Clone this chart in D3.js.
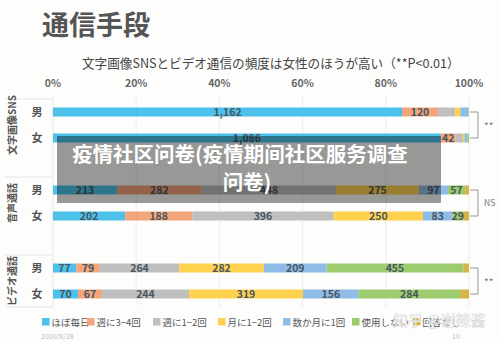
<!DOCTYPE html>
<html>
<head>
<meta charset="utf-8">
<script src="https://cdn.jsdelivr.net/npm/d3@7"></script>
<style>
  body { margin: 0; background: #fdfdfc; }
  svg { display: block; font-family: "Noto Sans CJK JP", "Noto Sans", sans-serif; }
</style>
</head>
<body>
<svg id="chart" width="500" height="342"></svg>
<script>

// Answer categories (legend order)
const categories = ["ほぼ毎日", "週に3−4回", "週に1−2回", "月に1−2回", "数か月に1回", "使用しない", "回答なし"];
const categoryColours = ["#4cc1ec", "#f3a57b", "#bfbfbf", "#fed24e", "#8fbce6", "#9dcc6f", "#d4b446"];

// Rows
const groups = ["文字画像SNS", "音声通話", "ビデオ通話"];
const genders = ["男", "女"];
const significance = ["**", "NS", "**"];

// Counts per category
const snsMale = [1162, 120, 57, 17, 27, 2, 0];
const snsFemale = [1086, 42, 20, 4, 8, 5, 0];
const voiceMale = [213, 282, 448, 275, 97, 57, 13];
const voiceFemale = [202, 188, 396, 250, 83, 29, 17];
const videoMale = [77, 79, 264, 282, 209, 455, 19];
const videoFemale = [70, 67, 244, 319, 156, 284, 25];

// Which categories get a printed value, per group
const labelledCategories = [[0, 1], [0, 1, 2, 3, 4, 5], [0, 1, 2, 3, 4, 5]];

const tickValues = [0, 0.2, 0.4, 0.6, 0.8, 1];

const rows = [
    { group: 0, gender: 0, values: snsMale },
    { group: 0, gender: 1, values: snsFemale },
    { group: 1, gender: 0, values: voiceMale },
    { group: 1, gender: 1, values: voiceFemale },
    { group: 2, gender: 0, values: videoMale },
    { group: 2, gender: 1, values: videoFemale }
];

const svg = d3.select("#chart");

// Title
svg.append("text")
    .attr("x", 42).attr("y", 35)
    .style("font-size", "27px").style("font-weight", "bold")
    .style("fill", "#555")
    .text("通信手段");
svg.append("text")
    .attr("x", 82).attr("y", 67.5)
    .style("font-size", "12.6px").style("fill", "#444")
    .text("文字画像SNSとビデオ通信の頻度は女性のほうが高い（**P<0.01）");

// Scales
const x = d3.scaleLinear().domain([0, 1]).range([53, 469]);
const yGroup = d3.scaleBand().domain(d3.range(groups.length)).range([99, 333]).padding(0);
const yGender = d3.scaleBand().domain(d3.range(genders.length)).range([0, 52]);
const barHeight = 9;
const rowY = (r) => yGroup(r.group) + yGender(r.gender) + yGender.bandwidth() / 2;

// Top axis labels
svg.append("g")
    .selectAll("text")
    .data(tickValues)
    .enter()
    .append("text")
    .attr("x", (d) => x(d))
    .attr("y", 86.5)
    .attr("text-anchor", "middle")
    .style("font-size", "10.5px").style("font-weight", "bold").style("fill", "#666")
    .text(d3.format(".0%"));

// Vertical gridlines
svg.append("g")
    .selectAll("line")
    .data(tickValues.slice(1))
    .enter()
    .append("line")
    .attr("x1", (d) => x(d)).attr("x2", (d) => x(d))
    .attr("y1", 95).attr("y2", 307)
    .style("stroke", "#ececec").style("stroke-width", 1);

// Left label table lines
const boxLines = [yGroup(0), yGroup(1), yGroup(2), yGroup(2) + 52];
svg.append("g")
    .selectAll("line")
    .data(boxLines)
    .enter()
    .append("line")
    .attr("x1", 5).attr("x2", x(0))
    .attr("y1", (d) => d).attr("y2", (d) => d)
    .style("stroke", "#e6e6e6");
svg.append("line")
    .attr("x1", x(0)).attr("x2", x(0))
    .attr("y1", 95).attr("y2", 307)
    .style("stroke", "#e6e6e6");

// Group labels (rotated)
svg.append("g")
    .selectAll("text")
    .data(groups)
    .enter()
    .append("text")
    .attr("transform", (d, i) => `translate(16, ${yGroup(i) + 26}) rotate(-90)`)
    .attr("text-anchor", "middle")
    .style("font-size", "10px").style("font-weight", "bold").style("fill", "#555")
    .text((d) => d);

// Bars
const stacked = rows.map((r) => {
    const total = d3.sum(r.values);
    let acc = 0;
    return r.values.map((v, i) => {
        const seg = { row: r, index: i, value: v, x0: acc / total, x1: (acc + v) / total };
        acc += v;
        return seg;
    });
});

const rowG = svg.append("g")
    .selectAll("g")
    .data(rows)
    .enter()
    .append("g");

rowG.append("text")
    .attr("x", 37)
    .attr("y", (d) => rowY(d) + 4)
    .attr("text-anchor", "middle")
    .style("font-size", "11px").style("font-weight", "bold").style("fill", "#555")
    .text((d) => genders[d.gender]);

rowG.selectAll("rect")
    .data((d, i) => stacked[i].filter((s) => s.value > 0))
    .enter()
    .append("rect")
    .attr("x", (d) => x(d.x0))
    .attr("width", (d) => x(d.x1) - x(d.x0))
    .attr("y", (d) => rowY(d.row) - barHeight / 2)
    .attr("height", barHeight)
    .style("fill", (d) => categoryColours[d.index]);

rowG.selectAll("text.value")
    .data((d, i) => stacked[i].filter((s) => labelledCategories[s.row.group].includes(s.index)))
    .enter()
    .append("text")
    .classed("value", true)
    .attr("x", (d) => (x(d.x0) + x(d.x1)) / 2)
    .attr("y", (d) => rowY(d.row) + 3.8)
    .attr("text-anchor", "middle")
    .style("font-size", "10.5px").style("font-weight", "bold").style("fill", "#4a5560")
    .text((d) => d3.format(",")(d.value));

// Significance brackets
const bracket = svg.append("g")
    .selectAll("g")
    .data(significance)
    .enter()
    .append("g");
bracket.append("path")
    .attr("d", (d, i) => {
        const y0 = yGroup(i) + yGender(0) + yGender.bandwidth() / 2,
              y1 = yGroup(i) + yGender(1) + yGender.bandwidth() / 2;
        return `M${x(1) + 1},${y0}H478V${y1}H${x(1) + 1}`;
    })
    .style("fill", "none").style("stroke", "#999").style("stroke-width", 1);
bracket.append("text")
    .attr("x", 484)
    .attr("y", (d, i) => yGroup(i) + 29 + (d === "**" ? 2 : 0))
    .style("font-size", (d) => d === "**" ? "10px" : "8.5px")
    .style("fill", "#777")
    .text((d) => d);

// Legend
const legendX = [42, 87, 153, 218, 283, 352, 413];
const legend = svg.append("g")
    .selectAll("g")
    .data(categories)
    .enter()
    .append("g")
    .attr("transform", (d, i) => `translate(${legendX[i]}, 322)`);
legend.append("rect")
    .attr("x", 0).attr("y", -4)
    .attr("width", 7.5).attr("height", 7.5)
    .style("fill", (d, i) => categoryColours[i]);
legend.append("text")
    .attr("x", 9.5).attr("y", 3.8)
    .style("font-size", "9.5px").style("fill", "#555")
    .text((d) => d);

// Footer
svg.append("text")
    .attr("x", 41).attr("y", 339)
    .style("font-size", "7px").style("fill", "#bbb")
    .text("2020/8/28");
svg.append("text")
    .attr("x", 452).attr("y", 339)
    .style("font-size", "7px").style("fill", "#bbb")
    .text("10");

// Watermark
svg.append("text")
    .attr("x", 393).attr("y", 326)
    .style("font-family", "'Noto Sans CJK SC'")
    .style("font-size", "15px")
    .style("fill", "#ffffff").style("fill-opacity", 0.75)
    .style("stroke", "#d8d8d8").style("stroke-width", 0.5)
    .text("知乎 @谢辣酱");

// Overlay caption
svg.append("rect")
    .attr("x", 57).attr("y", 136)
    .attr("width", 384).attr("height", 67)
    .style("fill", "#000").style("fill-opacity", 0.4);
const caption = svg.append("text")
    .attr("text-anchor", "middle")
    .style("font-family", "'Noto Sans CJK SC'")
    .style("font-size", "20.5px").style("font-weight", "bold")
    .style("fill", "#fff");
caption.append("tspan").attr("x", 240).attr("y", 162).text("疫情社区问卷(疫情期间社区服务调查");
caption.append("tspan").attr("x", 247).attr("y", 190).text("问卷)");

</script>
</body>
</html>
